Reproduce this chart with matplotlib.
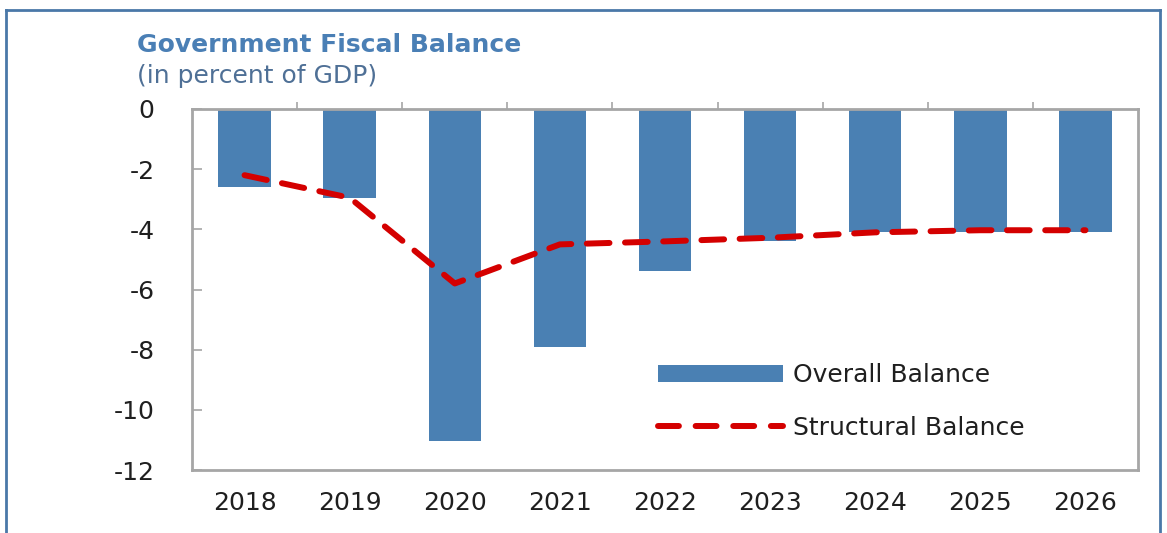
import matplotlib
matplotlib.use("Agg")
import matplotlib.pyplot as plt
from matplotlib.lines import Line2D
from matplotlib.patches import Patch
import numpy as np

years = ["2018", "2019", "2020", "2021", "2022", "2023", "2024", "2025", "2026"]
overall_balance = [-2.6, -2.95, -11.05, -7.9, -5.4, -4.4, -4.1, -4.1, -4.1]
structural_balance = [-2.2, -2.95, -5.8, -4.5, -4.4, -4.28, -4.1, -4.03, -4.03]
yticks = [0, -2, -4, -6, -8, -10, -12]

BAR = "#4a80b3"
RED = "#d40000"
GRAY = "#a6a6a6"
TXT = "#1f1f1f"
FONT = "DejaVu Sans"
FS = 18

fig = plt.figure(figsize=(11.67, 5.33), dpi=100)
fig.patch.set_facecolor("white")

# outer frame (top, left, right)
frame_col = "#4a78a8"
fig.add_artist(Line2D([6/1167, 6/1167], [0, 1-10/533], transform=fig.transFigure, color=frame_col, lw=2))
fig.add_artist(Line2D([1160/1167, 1160/1167], [0, 1-10/533], transform=fig.transFigure, color=frame_col, lw=2))
fig.add_artist(Line2D([6/1167, 1160/1167], [1-10/533, 1-10/533], transform=fig.transFigure, color=frame_col, lw=2))

ax = fig.add_axes([192/1167, 1-470/533, (1138-192)/1167, (470-109)/533])
x = np.arange(len(years))
ax.bar(x, overall_balance, width=0.5, color=BAR, zorder=2)
ax.plot(x, structural_balance, color=RED, lw=4.3, dashes=(3.8, 2.6), dash_capstyle="round",
        zorder=3)

ax.set_xlim(-0.5, len(years) - 0.5)
ax.set_ylim(-12, 0)

for s in ["left", "right", "top", "bottom"]:
    ax.spines[s].set_color(GRAY)
    ax.spines[s].set_linewidth(2)

ax.set_yticks(yticks)
ax.set_yticklabels([str(v) for v in yticks], fontsize=FS, family=FONT, color=TXT)
ax.tick_params(axis="y", direction="in", length=7, width=1.2, color=GRAY, pad=27)

ax.set_xticks(x)
ax.set_xticklabels(years, fontsize=FS, family=FONT, color=TXT)
ax.tick_params(axis="x", length=0, pad=15)

# small ticks at category boundaries along the zero line (top)
ax.set_xticks(np.arange(0.5, len(years) - 0.5, 1), minor=True)
ax.tick_params(axis="x", which="minor", top=True, bottom=False, direction="out",
               length=5, width=1.2, color=GRAY)

handles = [Patch(facecolor=BAR, edgecolor="none"),
           Line2D([0], [0], color=RED, lw=4.3, dashes=(3.5, 2.8), dash_capstyle="round")]
labels = ["Overall Balance", "Structural Balance"]
leg = ax.legend(handles, labels, loc="center left", bbox_to_anchor=(0.4926, 0.19), frameon=False,
                prop={"family": FONT, "size": FS}, handlelength=5.0, handleheight=0.7,
                handletextpad=0.4, labelspacing=1.15, borderaxespad=0, borderpad=0)
for t in leg.get_texts():
    t.set_color(TXT)

fig.text(137/1167, 1-45/533, "Government Fiscal Balance", fontsize=18, fontweight="bold",
         family=FONT, color="#4a7fb5", va="center", ha="left")
fig.text(137/1167, 1-76/533, "(in percent of GDP)", fontsize=18, family=FONT,
         color="#4f7096", va="center", ha="left")

fig.savefig("out.png", dpi=100, facecolor="white")
